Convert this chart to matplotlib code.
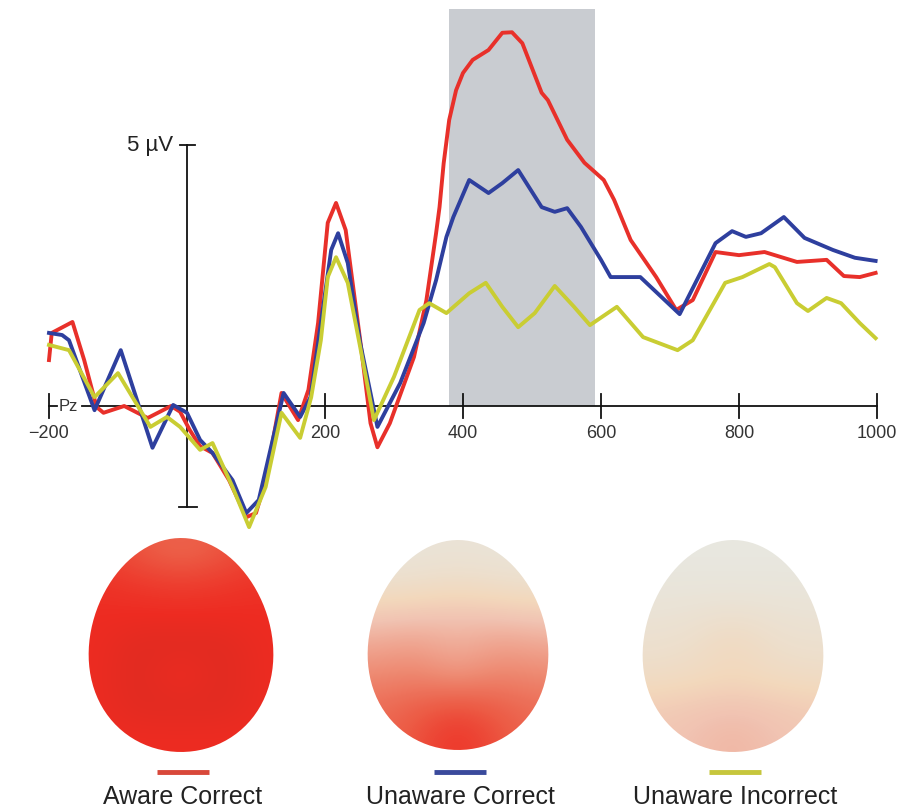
import numpy as np
import matplotlib.pyplot as plt
from matplotlib.colors import LinearSegmentedColormap
from matplotlib.path import Path
from matplotlib.patches import PathPatch

plt.rcParams['font.family'] = ['Liberation Sans', 'DejaVu Sans']

# ERP at Pz, time in ms, amplitude in microvolts
aware_t = [-200, -196, -166, -149, -131, -121, -91, -57, -23, -10, 4, 19, 37, 61, 86, 100, 114, 137, 161, 176,
           190, 204, 216, 230, 251, 266, 276, 294, 329, 347, 361, 366, 372, 380, 390, 400, 414, 437, 457, 471,
           486, 514, 523, 551, 576, 604, 619, 643, 680, 709, 733, 766, 800, 837, 884, 927, 952, 975, 998]
aware_uv = [0.88, 1.40, 1.61, 0.88, -0.02, -0.13, 0.0, -0.23, 0.0, -0.11, -0.46, -0.77, -0.90, -1.42, -2.13, -2.05, -1.42, 0.25, -0.27, 0.31,
            1.59, 3.51, 3.89, 3.37, 1.26, -0.33, -0.79, -0.33, 0.94, 2.03, 3.31, 3.81, 4.65, 5.48, 6.05, 6.38, 6.63, 6.82, 7.15, 7.16,
            6.95, 6.00, 5.86, 5.10, 4.66, 4.33, 3.95, 3.18, 2.47, 1.84, 2.03, 2.95, 2.89, 2.95, 2.76, 2.80, 2.49, 2.47, 2.55]

unaware_t = [-200, -181, -171, -134, -96, -50, -20, 0, 19, 37, 66, 86, 104, 140, 164, 179, 194, 209, 219, 233,
             251, 276, 309, 343, 361, 376, 386, 409, 437, 457, 480, 514, 533, 551, 571, 600, 614, 657, 714, 766,
             790, 810, 832, 865, 895, 936, 968, 998]
unaware_uv = [1.40, 1.36, 1.26, -0.08, 1.07, -0.80, 0.02, -0.13, -0.65, -0.90, -1.42, -2.05, -1.80, 0.25, -0.21, 0.17, 1.59, 2.99, 3.31, 2.74,
              1.21, -0.40, 0.44, 1.59, 2.41, 3.24, 3.62, 4.33, 4.08, 4.27, 4.52, 3.81, 3.72, 3.79, 3.43, 2.80, 2.47, 2.47, 1.76, 3.12,
              3.35, 3.24, 3.31, 3.62, 3.22, 2.99, 2.84, 2.78]

incorrect_t = [-200, -171, -134, -100, -53, -29, -10, 19, 37, 66, 90, 114, 137, 164, 180, 194, 204, 216, 233, 251,
               271, 300, 337, 351, 376, 409, 433, 457, 480, 504, 533, 561, 584, 623, 661, 711, 733, 780, 805, 844,
               852, 884, 900, 927, 948, 975, 998]
incorrect_uv = [1.17, 1.07, 0.17, 0.63, -0.40, -0.21, -0.40, -0.84, -0.71, -1.55, -2.32, -1.55, -0.13, -0.61, 0.17, 1.26, 2.47, 2.85, 2.36, 1.13,
                -0.27, 0.56, 1.84, 1.97, 1.78, 2.16, 2.36, 1.90, 1.51, 1.78, 2.30, 1.90, 1.55, 1.90, 1.32, 1.07, 1.26, 2.36, 2.47, 2.72,
                2.66, 1.97, 1.82, 2.07, 1.97, 1.59, 1.30]

xticks = [-200, 200, 400, 600, 800, 1000]
window = (380, 592)
labels = ["Aware Correct", "Unaware Correct", "Unaware Incorrect"]
colors = ["#e8302a", "#2e3f9e", "#c9cd33"]
bar_colors = ["#d8483a", "#3a4a9c", "#c6c63c"]

# scalp maps, relative amplitude, rows front (top) to back (bottom)
topo_aware = [[0.84, 0.76, 0.70, 0.76, 0.84],
              [0.88, 0.86, 0.84, 0.86, 0.88],
              [0.90, 0.90, 0.90, 0.90, 0.90],
              [0.90, 0.95, 0.95, 0.95, 0.90],
              [0.90, 0.96, 0.88, 0.96, 0.90],
              [0.90, 0.95, 0.95, 0.95, 0.90],
              [0.90, 0.90, 0.90, 0.90, 0.90]]
topo_unaware = [[0.04, 0.04, 0.05, 0.04, 0.04],
                [0.08, 0.10, 0.12, 0.10, 0.08],
                [0.26, 0.28, 0.30, 0.28, 0.26],
                [0.42, 0.46, 0.38, 0.46, 0.42],
                [0.55, 0.58, 0.50, 0.58, 0.55],
                [0.66, 0.72, 0.78, 0.72, 0.66],
                [0.68, 0.78, 0.88, 0.78, 0.68]]
topo_incorrect = [[0.00, 0.00, 0.00, 0.00, 0.00],
                  [0.02, 0.02, 0.02, 0.02, 0.02],
                  [0.05, 0.06, 0.08, 0.06, 0.05],
                  [0.08, 0.09, 0.17, 0.09, 0.08],
                  [0.12, 0.14, 0.18, 0.14, 0.12],
                  [0.24, 0.27, 0.30, 0.27, 0.24],
                  [0.27, 0.31, 0.36, 0.31, 0.27]]

fig = plt.figure(figsize=(9.03, 8.09), dpi=100)

# ERP panel, limits chosen so 0 ms / 0 uV sit where they do in the figure
ax = fig.add_axes([0, 0, 1, 1])
ax.set_xlim(-271.0, 1037.7)
ax.set_ylim(-7.72, 7.778)
ax.axis('off')

ax.axvspan(window[0], window[1], ymin=(0 + 7.72) / 15.498, ymax=(7.6 + 7.72) / 15.498,
           color='#c9ccd1', lw=0, zorder=0)

axis_kw = dict(color='#111111', lw=1.3, zorder=1)
ax.plot([-152, 1000], [0, 0], **axis_kw)
ax.plot([-200, -188], [0, 0], **axis_kw)
for t in xticks:
    ax.plot([t, t], [-0.23, 0.23], **axis_kw)
    ax.text(t, -0.52, str(t).replace('-', '\u2212'), ha='center', va='center',
            fontsize=13, color='#333333', zorder=1)
ax.text(-186, 0.0, "Pz", ha='left', va='center', fontsize=12, color='#333333')

ax.plot([0, 0], [-1.93, 5], **axis_kw)
ax.plot([-10, 11], [5, 5], **axis_kw)
ax.plot([-12, 14], [-1.93, -1.93], **axis_kw)
ax.text(-20, 5.0, "5 \u00b5V", ha='right', va='center', fontsize=16, color='#222222')

ax.plot(aware_t, aware_uv, color=colors[0], lw=2.8, zorder=3, solid_joinstyle='round')
ax.plot(unaware_t, unaware_uv, color=colors[1], lw=2.8, zorder=4, solid_joinstyle='round')
ax.plot(incorrect_t, incorrect_uv, color=colors[2], lw=2.8, zorder=5, solid_joinstyle='round')

# overlay in pixel units for the scalp maps and their labels
ov = fig.add_axes([0, 0, 1, 1])
ov.set_xlim(0, 903)
ov.set_ylim(809, 0)
ov.axis('off')
ov.patch.set_alpha(0)

cmap = LinearSegmentedColormap.from_list('scalp', [
    (0.0, '#e8e7df'), (0.12, '#efdcc6'), (0.18, '#f3d8bc'), (0.3, '#f1c3b2'), (0.55, '#ee8a72'),
    (0.75, '#ec5a44'), (0.9, '#ee2c22'), (1.0, '#d42a20')])

heads = [(181, 645, 92, 107), (458, 645, 90, 105), (733, 646, 90, 106)]
grids = [topo_aware, topo_unaware, topo_incorrect]
tt = np.linspace(0, 2 * np.pi, 200)
for (cx, cy, rx, ry), grid, lab, bc in zip(heads, grids, labels, bar_colors):
    up = np.sin(tt)
    xs = cx + rx * np.cos(tt) * (1 - 0.09 * up)
    ys = cy - ry * up
    clip = PathPatch(Path(np.column_stack([xs, ys])), fc='none', ec='none', transform=ov.transData)
    ov.add_patch(clip)
    im = ov.imshow(np.array(grid), cmap=cmap, vmin=0, vmax=1, interpolation='bicubic',
                   extent=(cx - rx * 1.15, cx + rx * 1.15, cy + ry, cy - ry), aspect='auto', zorder=2)
    im.set_clip_path(clip)
    ov.plot([cx - 24, cx + 28], [772, 772], color=bc, lw=3.5, solid_capstyle='butt')
    ov.text(cx + 2, 804, lab, ha='center', va='baseline', fontsize=18, color='#222222')

ov.set_xlim(0, 903)
ov.set_ylim(809, 0)

fig.savefig('out.png', dpi=100)
